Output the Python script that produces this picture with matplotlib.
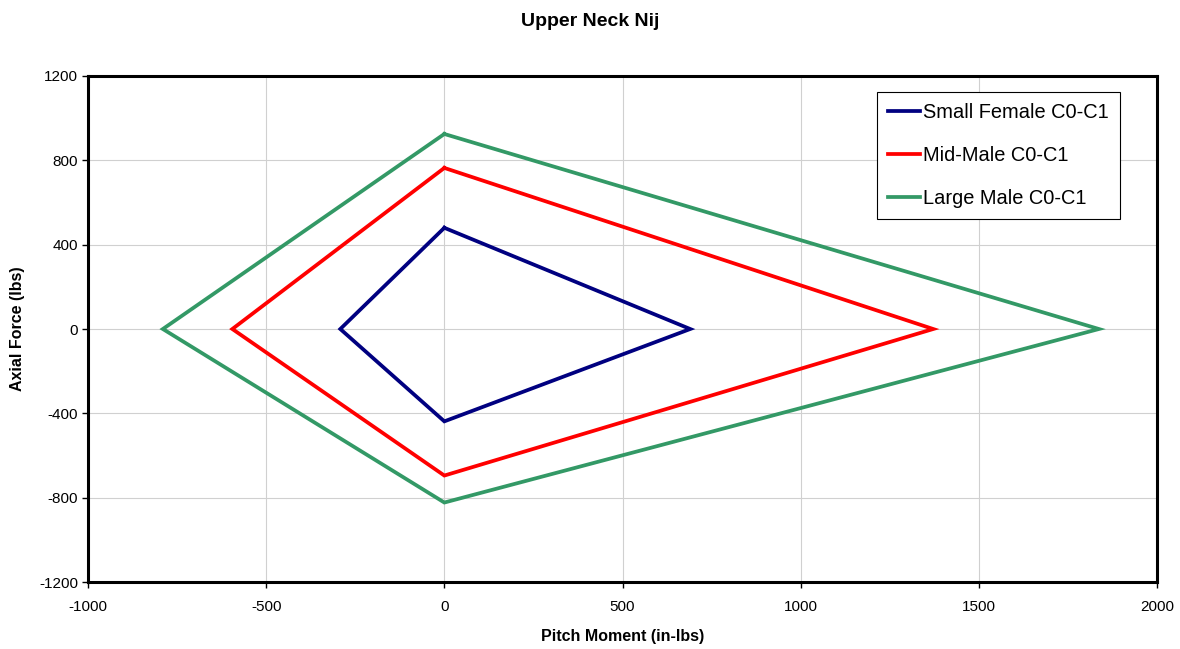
import matplotlib
matplotlib.use("Agg")
import matplotlib.pyplot as plt

plt.rcParams["font.family"] = ["Liberation Sans", "DejaVu Sans"]
plt.rcParams["axes.unicode_minus"] = False

# diamond corners, closed: top, right, bottom, left, top
small_x = [0, 690, 0, -292, 0]
small_y = [480, 0, -438, 0, 480]
mid_x = [0, 1372, 0, -595, 0]
mid_y = [764, 0, -695, 0, 764]
large_x = [0, 1837, 0, -790, 0]
large_y = [925, 0, -823, 0, 925]

series = [
    ("Small Female C0-C1", small_x, small_y, "#000080"),
    ("Mid-Male C0-C1", mid_x, mid_y, "#FF0000"),
    ("Large Male C0-C1", large_x, large_y, "#339966"),
]

fig = plt.figure(figsize=(11.8, 6.49), dpi=100)
ax = fig.add_axes([0.0746, 0.1032, 0.9059, 0.7797])

for label, xs, ys, color in series:
    ax.plot(xs, ys, color=color, linewidth=2.7, label=label, solid_joinstyle="miter")

ax.set_xlim(-1000, 2000)
ax.set_ylim(-1200, 1200)
ax.set_xticks(range(-1000, 2001, 500))
ax.set_yticks(range(-1200, 1201, 400))
ax.grid(True, color="#d0d0d0", linewidth=0.8)
ax.set_axisbelow(True)

for spine in ax.spines.values():
    spine.set_linewidth(2.2)
    spine.set_color("black")

ax.tick_params(direction="out", length=4, width=1, labelsize=11)
ax.tick_params(axis="x", pad=9)
ax.tick_params(axis="y", pad=3)

ax.set_xlabel("Pitch Moment (in-lbs)", fontsize=11.5, fontweight="bold", labelpad=11)
ax.set_ylabel("Axial Force (lbs)", fontsize=11.5, fontweight="bold", labelpad=10)
fig.suptitle("Upper Neck Nij", fontsize=14, fontweight="bold", y=0.98)

leg = ax.legend(loc="upper right", bbox_to_anchor=(0.9654, 0.9684), borderaxespad=0,
                fontsize=14.4, fancybox=False, framealpha=1, edgecolor="black",
                handlelength=1.6, handletextpad=0.15, labelspacing=1.2, borderpad=0.55)
leg.get_frame().set_linewidth(0.8)

fig.savefig("out.png", dpi=100)
